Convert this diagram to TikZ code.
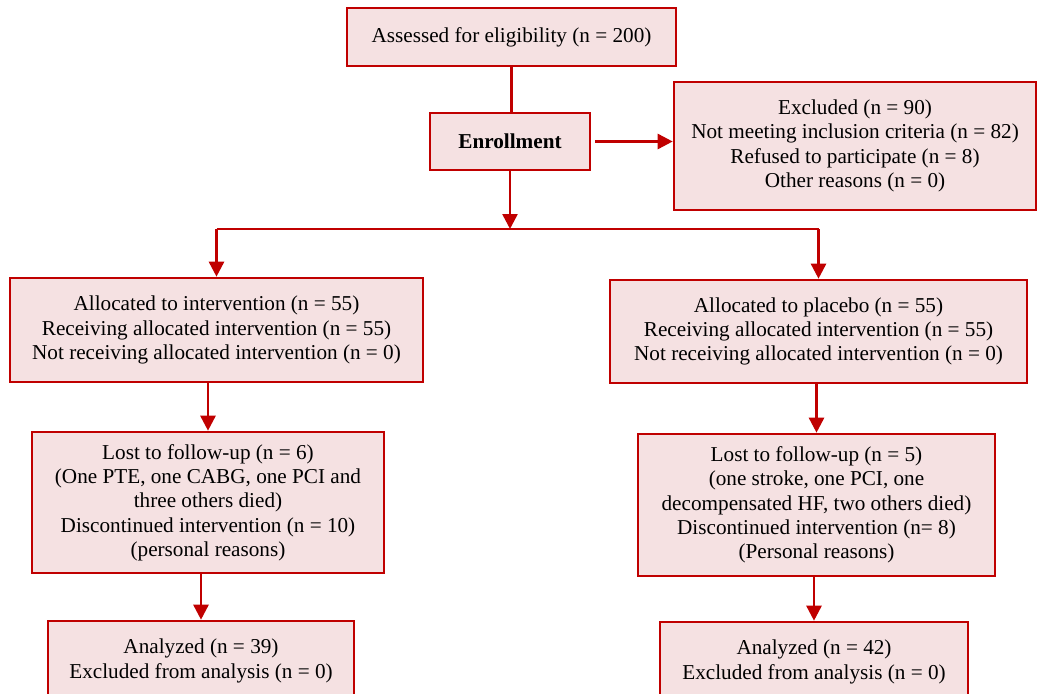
\documentclass[tikz,border=0pt]{standalone}
\usepackage{fontspec}
\setmainfont{Liberation Serif}
\usetikzlibrary{arrows.meta}
\definecolor{boxred}{HTML}{C00000}
\definecolor{boxfill}{HTML}{F5E1E2}
\tikzset{
  flowbox/.style={draw=boxred, fill=boxfill, line width=2.6pt, inner sep=0pt, align=center,
    font=\fontsize{21.2}{24.3}\selectfont},
  link/.style={draw=boxred, line width=2.6pt},
  arr/.style={link, -{Triangle[width=15pt,length=15pt]}}
}
\begin{document}
\begin{tikzpicture}[x=1pt,y=-1pt]
\useasboundingbox (0,0) rectangle (1038,693);
\node[flowbox, minimum width=329pt, minimum height=58pt] (top) at (511.5,37) {Assessed for eligibility (n = 200)};
\node[flowbox, minimum width=160pt, minimum height=57pt] (enroll) at (510,141.5) {\textbf{Enrollment}};
\node[flowbox, minimum width=362pt, minimum height=128pt] (excl) at (855,146) {Excluded (n = 90)\\Not meeting inclusion criteria (n = 82)\\Refused to participate (n = 8)\\Other reasons (n = 0)};
\node[flowbox, minimum width=413pt, minimum height=104pt] (lalloc) at (216.5,330) {Allocated to intervention (n = 55)\\Receiving allocated intervention (n = 55)\\Not receiving allocated intervention (n = 0)};
\node[flowbox, minimum width=417pt, minimum height=103pt] (ralloc) at (818.5,331.5) {Allocated to placebo (n = 55)\\Receiving allocated intervention (n = 55)\\Not receiving allocated intervention (n = 0)};
\node[flowbox, minimum width=352pt, minimum height=141pt] (llost) at (208,502.5) {Lost to follow-up (n = 6)\\(One PTE, one CABG, one PCI and\\three others died)\\Discontinued intervention (n = 10)\\(personal reasons)};
\node[flowbox, minimum width=357pt, minimum height=142pt] (rlost) at (816.5,505) {Lost to follow-up (n = 5)\\(one stroke, one PCI, one\\decompensated HF, two others died)\\Discontinued intervention (n= 8)\\(Personal reasons)};
\node[flowbox, minimum width=306pt, minimum height=80pt] (lanal) at (201,661) {Analyzed (n = 39)\\Excluded from analysis (n = 0)};
\node[flowbox, minimum width=308pt, minimum height=80pt] (ranal) at (814,662) {Analyzed (n = 42)\\Excluded from analysis (n = 0)};
\coordinate (split) at (510,229);
\draw[link] (top.south) -- (top.south |- enroll.north);
\draw[arr] ([xshift=4pt]enroll.east) -- (excl.west |- enroll.east);
\draw[arr] (enroll.south) -- (split);
\draw[link] (lalloc.north |- split) -- (ralloc.north |- split);
\draw[arr] (lalloc.north |- split) -- (lalloc.north);
\draw[arr] (ralloc.north |- split) -- (ralloc.north);
\draw[arr] (llost.north |- lalloc.south) -- (llost.north);
\draw[arr] (rlost.north |- ralloc.south) -- (rlost.north);
\draw[arr] (lanal.north |- llost.south) -- (lanal.north);
\draw[arr] (ranal.north |- rlost.south) -- (ranal.north);
\end{tikzpicture}
\end{document}
